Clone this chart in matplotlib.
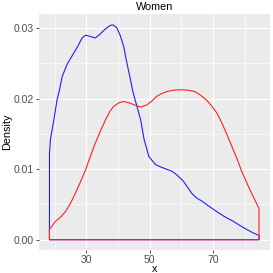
import numpy as np
import matplotlib
matplotlib.use("Agg")
import matplotlib.pyplot as plt
from matplotlib.ticker import MultipleLocator

# Density estimates (women, two groups)
blue_x = [18.3, 18.6, 19.7, 20.7, 21.5, 22.3, 23.9, 25.5, 27.1, 28.6, 29.7,
          31.3, 32.8, 34.4, 36.0, 37.6, 38.4, 39.5, 40.7, 41.8, 42.6, 43.7,
          44.7, 46.0, 47.1, 48.2, 49.7, 51.8, 53.5, 55.3, 57.0, 58.5, 60.6,
          62.0, 63.2, 64.8, 66.4, 68.5, 71.1, 73.5, 76.4, 78.5, 80.6, 82.5,
          84.5]
blue_y = [0.0121, 0.0142, 0.0170, 0.0198, 0.0213, 0.0231, 0.0249, 0.0261,
          0.0273, 0.0286, 0.0290, 0.0288, 0.0286, 0.0292, 0.0299, 0.0304,
          0.03045, 0.0301, 0.0289, 0.0273, 0.0254, 0.0231, 0.0209, 0.0188,
          0.0170, 0.0142, 0.0118, 0.01065, 0.0103, 0.0100, 0.0097, 0.0092,
          0.0083, 0.0074, 0.0066, 0.0059, 0.0055, 0.0048, 0.0040, 0.0033,
          0.0026, 0.0020, 0.00146, 0.0010, 0.0006]

red_x = [18.3, 20.2, 21.8, 23.4, 25.0, 26.5, 28.1, 29.7, 31.2, 32.8, 34.4,
         36.0, 37.4, 38.6, 40.2, 41.6, 43.5, 45.8, 47.1, 49.0, 50.5, 52.1,
         53.7, 55.3, 57.5, 60.0, 62.0, 64.2, 66.0, 67.9, 69.5, 71.1, 72.4,
         73.7, 75.0, 76.3, 77.7, 79.0, 80.3, 81.6, 83.0, 84.5]
red_y = [0.00146, 0.0026, 0.0032, 0.0040, 0.0052, 0.0066, 0.0082, 0.0099,
         0.0118, 0.0137, 0.0154, 0.0170, 0.0182, 0.0189, 0.0194, 0.0196,
         0.0194, 0.0190, 0.0188, 0.0191, 0.0196, 0.0203, 0.0207, 0.0210,
         0.0212, 0.02126, 0.0212, 0.0210, 0.0205, 0.0198, 0.0190, 0.0180,
         0.0169, 0.0156, 0.0142, 0.0128, 0.0113, 0.0097, 0.0084, 0.0071,
         0.0058, 0.0044]

x_ticks = [30, 50, 70]
y_ticks = [0.00, 0.01, 0.02, 0.03]


def outline(x, y):
    # closed density outline, like ggplot's geom_density with no fill
    xs = np.concatenate([x, [x[-1], x[0], x[0]]])
    ys = np.concatenate([y, [0, 0, y[0]]])
    return xs, ys


plt.rcParams['font.family'] = ['Liberation Sans', 'DejaVu Sans']

fig = plt.figure(figsize=(2.73, 2.73), dpi=100)
ax = fig.add_axes([39 / 273, 1 - 250.3 / 273, 230.5 / 273, 236.3 / 273])
ax.set_facecolor('#EBEBEB')

for xv, yv, col in [(blue_x, blue_y, '#2020FF'), (red_x, red_y, '#FF2020')]:
    xs, ys = outline(np.array(xv), np.array(yv))
    ax.plot(xs, ys, color=col, lw=0.8, solid_joinstyle='round')

ax.set_xlim(15.0, 87.8)
ax.set_ylim(-0.0015, 0.032)
ax.set_xticks(x_ticks)
ax.set_yticks(y_ticks)
ax.set_yticklabels(["%.2f" % v for v in y_ticks])
ax.xaxis.set_minor_locator(MultipleLocator(10))
ax.yaxis.set_minor_locator(MultipleLocator(0.005))
ax.grid(which='major', color='white', lw=0.8)
ax.grid(which='minor', color='white', lw=0.4)
ax.set_axisbelow(True)
for s in ax.spines.values():
    s.set_visible(False)
ax.tick_params(which='major', length=2.5, width=0.6, color='#333333',
               labelsize=7.5, labelcolor='#4D4D4D')
ax.tick_params(axis='x', pad=1)
ax.tick_params(axis='y', pad=1.5)
ax.tick_params(which='minor', length=0)

ax.set_title('Women', fontsize=7.8, pad=3)
ax.set_xlabel('x', fontsize=7.8, labelpad=-1)
ax.set_ylabel('Density', fontsize=7.8, labelpad=1)

fig.savefig('out.png', dpi=100)
